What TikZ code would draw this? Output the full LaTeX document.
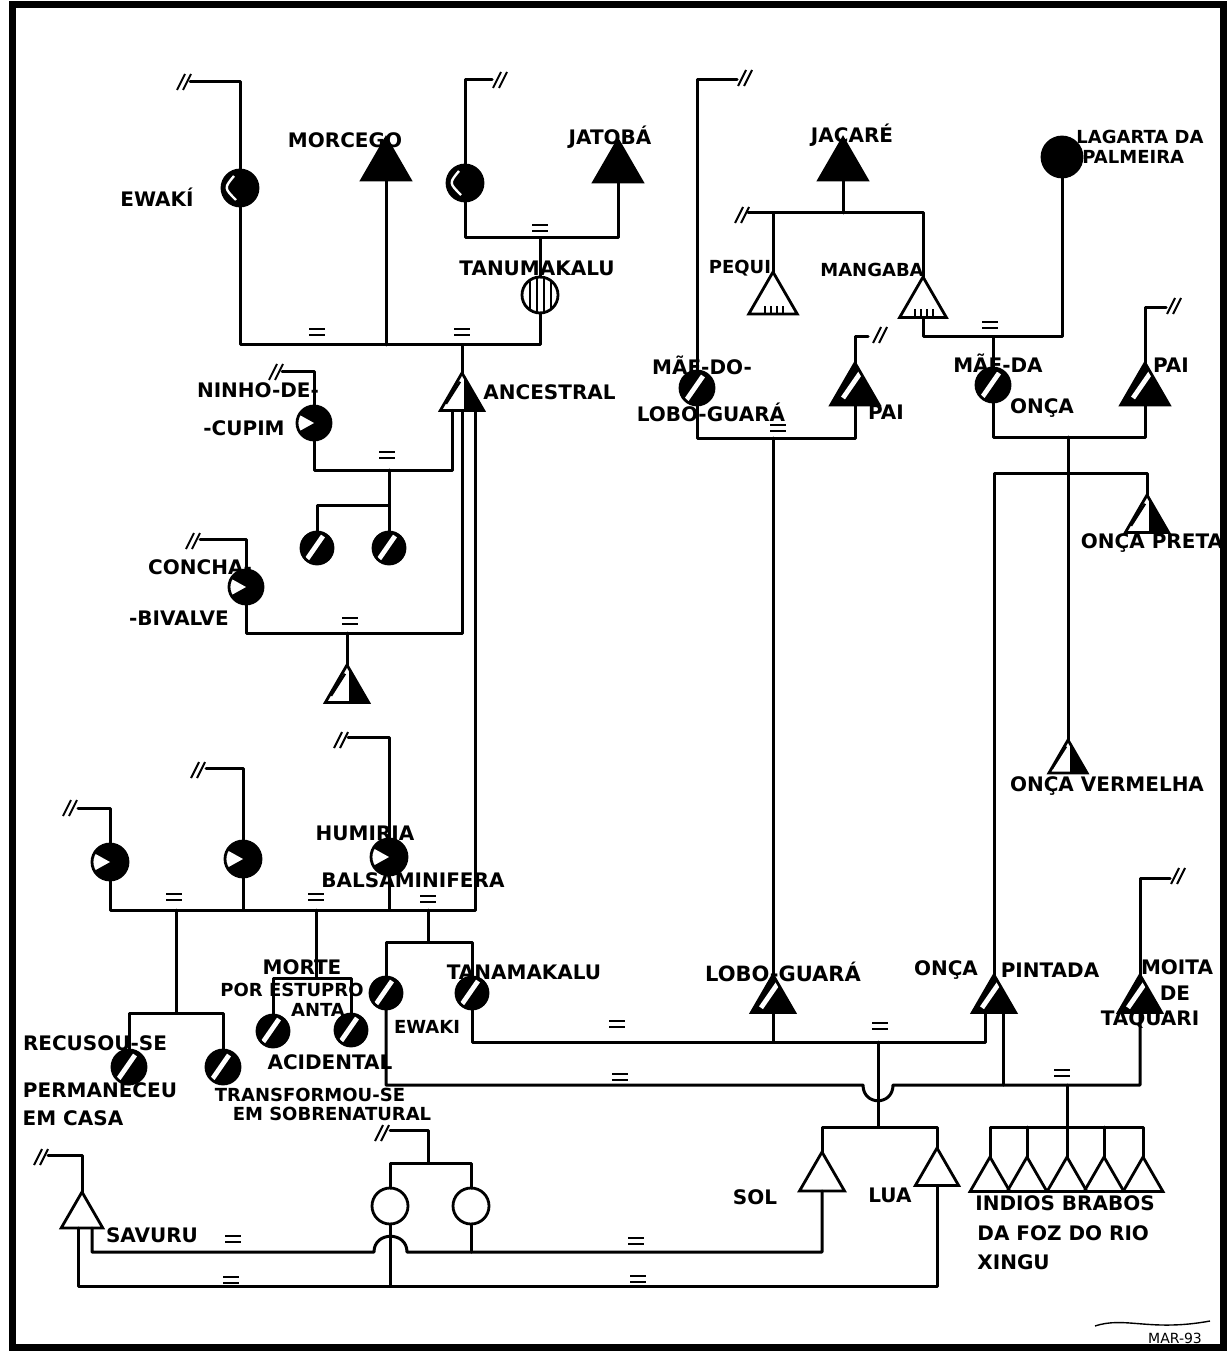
\documentclass[tikz,border=0pt]{standalone}
\usepackage{fontspec}
\setmainfont{DejaVu Sans}
\usetikzlibrary{shapes.geometric}
\newcommand\apb[1]{\coordinate (#1A) at (#1.corner 1); \coordinate (#1B) at (#1.side 2);}
\begin{document}
\begin{tikzpicture}[x=0.5pt,y=-0.5pt,
  ln/.style={line width=1.5pt, line cap=round, line join=round},
  sym/.style={draw=black, line width=1.4pt, inner sep=0pt, outer sep=0pt},
  fem/.style={sym, circle, minimum size=#1pt}, fem/.default=18,
  male/.style={sym, regular polygon, regular polygon sides=3, minimum size=#1pt}, male/.default=28,
  fblk/.style={fill=black},
  fswirl/.style={fill=black, path picture={\draw[white,line width=1.2pt] ([shift={(-3pt,6pt)}]path picture bounding box.center) .. controls ([shift={(-8pt,0pt)}]path picture bounding box.center) .. ([shift={(-2pt,-6pt)}]path picture bounding box.center);}},
  fwedge/.style={fill=black, path picture={\fill[white] (path picture bounding box.center) -- ++(-9pt,5pt) -- ++(0pt,-10pt) -- cycle;}},
  fslash/.style={fill=black, path picture={\draw[white,line width=2.4pt] ([shift={(-6pt,-7pt)}]path picture bounding box.center) -- ([shift={(3pt,6pt)}]path picture bounding box.center);}},
  fhalf/.style={path picture={\fill[black] ([xshift=1pt]path picture bounding box.north) rectangle (path picture bounding box.south east); \draw[line width=1.2pt] ([shift={(-8pt,-6pt)}]path picture bounding box.center) -- ([shift={(-1pt,5pt)}]path picture bounding box.center);}},
  fstripe/.style={path picture={\foreach \dx in {-5,-1.5,2,5.5}{\draw[line width=0.9pt] ([xshift=\dx pt]path picture bounding box.north) -- ([xshift=\dx pt]path picture bounding box.south);}}},
  ftick/.style={path picture={\foreach \dx in {-4,-1,2,5}{\draw[line width=0.6pt] ([xshift=\dx pt]path picture bounding box.south) -- ++(0pt,4pt);}}},
  lbl/.style={font=\bfseries\fontsize{10}{11}\selectfont, inner sep=0pt},
  brk/.pic={\draw[line width=1pt] (-7,8) -- (1,-8) (-1,8) -- (7,-8);},
  eqm/.pic={\draw[line width=1.1pt] (-8,-3) -- (8,-3) (-8,3) -- (8,3);}
]
\path[use as bounding box] (0,0) rectangle (1231,1352);
\draw[line width=3.5pt] (12,5) rectangle (1223,1347);

% ---------- symbols
\node[fem, fswirl] (ew1) at (240,188) {};
\node[male, fblk] (mor) at (386,166) {};
\node[fem, fswirl] (ew2) at (465,183) {};
\node[male, fblk] (jat) at (618,168) {};
\node[fem, fstripe] (tan) at (540,295) {};
\node[male=25, fhalf] (anc) at (462,398) {};
\node[fem=17, fwedge] (nin) at (314,423) {};
\node[fem=16, fslash] (c1) at (317,548) {};
\node[fem=16, fslash] (c2) at (389,548) {};
\node[fem=17, fwedge] (con) at (246,587) {};
\node[male=25, fhalf] (cch) at (347,690) {};
\node[fem, fwedge] (h1) at (110,862) {};
\node[fem, fwedge] (h2) at (243,859) {};
\node[fem, fwedge] (hum) at (389,857) {};
\node[fem=17, fslash] (rec) at (129,1067) {};
\node[fem=17, fslash] (tra) at (223,1067) {};
\node[fem=16, fslash] (mo1) at (273,1031) {};
\node[fem=16, fslash] (mo2) at (351,1030) {};
\node[fem=16, fslash] (ewb) at (386,993) {};
\node[fem=16, fslash] (tnb) at (472,993) {};
\node[fem] (sc1) at (390,1206) {};
\node[fem] (sc2) at (471,1206) {};
\node[male=24] (sav) at (82,1216) {};
\node[male=26] (sol) at (822,1178) {};
\node[male=25] (lua) at (937,1173) {};
\node[male=23] (ind1) at (990,1180) {};
\node[male=23] (ind2) at (1027,1180) {};
\node[male=23] (ind3) at (1067,1180) {};
\node[male=23] (ind4) at (1104,1180) {};
\node[male=23] (ind5) at (1143,1180) {};
\node[male, fblk] (jac) at (843,166) {};
\node[fem=20, fblk] (lag) at (1062,157) {};
\node[male, ftick] (peq) at (773,300) {};
\node[male=27, ftick] (man) at (923,304) {};
\node[fem=17, fslash] (ml) at (697,388) {};
\node[male, fslash] (pai1) at (855,391) {};
\node[fem=17, fslash] (mo) at (993,385) {};
\node[male, fslash] (pai2) at (1145,391) {};
\node[male=25, fhalf] (opr) at (1147,520) {};
\node[male=22, fhalf] (ove) at (1068,762) {};
\node[male=25, fslash] (lob) at (773,1000) {};
\node[male=25, fslash] (opi) at (994,1000) {};
\node[male=25, fslash] (moi) at (1140,1000) {};

\apb{mor}\apb{jat}\apb{anc}\apb{cch}\apb{sav}\apb{sol}\apb{lua}
\apb{ind1}\apb{ind2}\apb{ind3}\apb{ind4}\apb{ind5}
\apb{jac}\apb{peq}\apb{man}\apb{pai1}\apb{pai2}\apb{opr}\apb{ove}\apb{lob}\apb{opi}\apb{moi}

% ---------- top-left
\coordinate (ew1T) at (190,82);
\draw[ln] (ew1.north) |- (ew1T);
\pic at (184,82) {brk};
\draw[ln] (ew1.south) |- (tan.south |- 0,345) -- (tan.south);
\draw[ln] (morB) -- (morB |- 0,345);
\draw[ln] (ancA) -- (ancA |- 0,345);
\pic at (317,332) {eqm};
\pic at (462,332) {eqm};
\coordinate (ew2T) at (492,80);
\draw[ln] (ew2.north) |- (ew2T);
\pic at (500,80) {brk};
\draw[ln] (ew2.south) |- (jatB |- 0,238) -- (jatB);
\draw[ln] (tan.north) -- (tan.north |- 0,238);
\pic at (540,228) {eqm};

% ninho-de-cupim
\coordinate (ninT) at (282,372);
\draw[ln] (nin.north) |- (ninT);
\pic at (276,372) {brk};
\coordinate (ancL) at ([xshift=-5pt]ancB);
\coordinate (ancR) at ([xshift=6.5pt]ancB);
\draw[ln] (nin.south) |- (ancL |- 0,470) -- (ancL);
\pic at (387,455) {eqm};
\draw[ln] (c2.north |- 0,470) -- (c2.north);
\draw[ln] (c1.north) |- (c2.north |- 0,505);

% concha-bivalve
\coordinate (conT) at (200,539);
\draw[ln] (con.north) |- (conT);
\pic at (193,541) {brk};
\draw[ln] (con.south) |- (ancB |- 0,633) -- (ancB);
\pic at (350,621) {eqm};
\draw[ln] (cchA) -- (cchA |- 0,633);

% humiria
\coordinate (h1T) at (78,808);
\draw[ln] (h1.north) |- (h1T);
\pic at (70,808) {brk};
\coordinate (h2T) at (206,768);
\draw[ln] (h2.north) |- (h2T);
\pic at (198,770) {brk};
\coordinate (humT) at (348,737);
\draw[ln] (hum.north) |- (humT);
\pic at (341,740) {brk};
\draw[ln] (h1.south) |- (ancR |- 0,910) -- (ancR);
\draw[ln] (h2.south) -- (h2.south |- 0,910);
\draw[ln] (hum.south) -- (hum.south |- 0,910);
\pic at (174,897) {eqm};
\pic at (316,897) {eqm};
\pic at (428,899) {eqm};
\coordinate (hJa) at (176,910);
\coordinate (hJb) at (316,910);
\coordinate (hJc) at (428,910);
\draw[ln] (hJa) -- (hJa |- 0,1013);
\draw[ln] (rec.north) |- (tra.north |- 0,1013) -- (tra.north);
\draw[ln] (hJb) -- (hJb |- 0,978);
\draw[ln] (mo1.north) |- (mo2.north |- 0,978) -- (mo2.north);
\draw[ln] (hJc) -- (hJc |- 0,942);
\draw[ln] (ewb.north) |- (tnb.north |- 0,942) -- (tnb.north);

% ---------- bottom marriage lines
\coordinate (opiL) at ([xshift=-4.5pt]opiB);
\coordinate (opiR) at ([xshift=4.5pt]opiB);
\draw[ln] (tnb.south) |- (opiL |- 0,1042) -- (opiL);
\draw[ln] (lobB) -- (lobB |- 0,1042);
\pic at (617,1024) {eqm};
\pic at (880,1026) {eqm};
\coordinate (hopA) at (863,1085);
\coordinate (hopB) at (893,1085);
\draw[ln] (ewb.south) |- (hopA) .. controls (863,1106) and (893,1106) .. (hopB) -- (moiB |- 0,1085) -- (moiB);
\draw[ln] (opiR) -- (opiR |- 0,1085);
\pic at (620,1077) {eqm};
\pic at (1062,1073) {eqm};
\coordinate (slJ) at (878,1042);
\draw[ln] (slJ) -- (slJ |- 0,1127);
\draw[ln] (solA) |- (luaA |- 0,1127) -- (luaA);
\coordinate (inJ) at (1067,1085);
\draw[ln] (inJ) -- (inJ |- 0,1127);
\draw[ln] (ind1A) |- (ind5A |- 0,1127) -- (ind5A);
\draw[ln] (ind2A) -- (ind2A |- 0,1127);
\draw[ln] (ind3A) -- (ind3A |- 0,1127);
\draw[ln] (ind4A) -- (ind4A |- 0,1127);

% savuru
\coordinate (savL) at ([xshift=-2pt]savB);
\coordinate (savR) at ([xshift=5pt]savB);
\coordinate (hp1) at (407,1252);
\coordinate (hp2) at (374,1252);
\draw[ln] (solB) -- (solB |- 0,1252) -- (hp1) .. controls (407,1231) and (374,1231) .. (hp2) -- (savR |- 0,1252) -- (savR);
\draw[ln] (sc2.south) -- (sc2.south |- 0,1252);
\draw[ln] (luaB) -- (luaB |- 0,1286) -- (savL |- 0,1286) -- (savL);
\draw[ln] (sc1.south) -- (sc1.south |- 0,1286);
\pic at (233,1239) {eqm};
\pic at (636,1241) {eqm};
\pic at (231,1280) {eqm};
\pic at (638,1279) {eqm};
\coordinate (savT) at (48,1155);
\draw[ln] (savA) |- (savT);
\pic at (41,1157) {brk};
\coordinate (scJ) at (428,1163);
\coordinate (scT) at (390,1130);
\draw[ln] (sc1.north) |- (sc2.north |- 0,1163) -- (sc2.north);
\draw[ln] (scJ) |- (scT);
\pic at (382,1133) {brk};

% ---------- right top
\coordinate (mlT) at (737,80);
\draw[ln] (ml.north) |- (mlT);
\pic at (745,78) {brk};
\draw[ln] (ml.south) |- (pai1B |- 0,438) -- (pai1B);
\pic at (778,428) {eqm};
\draw[ln] (lobA) -- (lobA |- 0,438);
\coordinate (p1T) at (868,337);
\draw[ln] (pai1A) |- (p1T);
\pic at (880,335) {brk};
\coordinate (jT) at (748,213);
\draw[ln] (jT) -- (manA |- 0,213) -- (manA);
\pic at (742,215) {brk};
\draw[ln] (jacB) -- (jacB |- 0,213);
\draw[ln] (peqA) -- (peqA |- 0,213);
\draw[ln] (manB) |- (lag.south |- 0,337) -- (lag.south);
\pic at (990,325) {eqm};
\draw[ln] (mo.north) -- (mo.north |- 0,337);
\draw[ln] (mo.south) |- (pai2B |- 0,437) -- (pai2B);
\coordinate (p2T) at (1166,308);
\draw[ln] (pai2A) |- (p2T);
\pic at (1174,306) {brk};
\coordinate (oJ) at (1068,437);
\draw[ln] (oJ) -- (oJ |- 0,473);
\draw[ln] (opiA) |- (oprA |- 0,473) -- (oprA);
\draw[ln] (oveA) -- (oveA |- 0,473);
\coordinate (moT) at (1170,878);
\draw[ln] (moiA) |- (moT);
\pic at (1178,876) {brk};

% ---------- labels
\node[lbl] (tEw1) at (157,197) {EWAKÍ};
\node[lbl] (tMor) at (345,140) {MORCEGO};
\node[lbl] (tJat) at (610,137) {JATOBÁ};
\node[lbl] (tTan) at (537,268) {TANUMAKALU};
\node[lbl, anchor=west] (tAnc) at (483,392) {ANCESTRAL};
\node[lbl] (tNin1) at (258,390) {NINHO-DE-};
\node[lbl] (tNin2) at (244,428) {-CUPIM};
\node[lbl] (tCon1) at (200,567) {CONCHA-};
\node[lbl] (tCon2) at (179,618) {-BIVALVE};
\node[lbl] (tHum1) at (365,833) {HUMIRIA};
\node[lbl] (tHum2) at (413,880) {BALSAMINIFERA};
\node[lbl] (tMt1) at (302,967) {MORTE};
\node[lbl, font=\bfseries\fontsize{9}{10}\selectfont] (tMt2) at (292,990) {POR ESTUPRO};
\node[lbl, font=\bfseries\fontsize{9}{10}\selectfont] (tMt3) at (318,1010) {ANTA};
\node[lbl] (tMt4) at (330,1062) {ACIDENTAL};
\node[lbl, font=\bfseries\fontsize{9}{10}\selectfont] (tEwb) at (427,1027) {EWAKI};
\node[lbl] (tTnb) at (524,972) {TANAMAKALU};
\node[lbl] (tRec1) at (95,1043) {RECUSOU-SE};
\node[lbl] (tRec2) at (100,1090) {PERMANECEU};
\node[lbl] (tRec3) at (73,1118) {EM CASA};
\node[lbl, font=\bfseries\fontsize{9}{10}\selectfont] (tTra1) at (310,1095) {TRANSFORMOU-SE};
\node[lbl, font=\bfseries\fontsize{9}{10}\selectfont] (tTra2) at (332,1114) {EM SOBRENATURAL};
\node[lbl] (tSav) at (152,1235) {SAVURU};
\node[lbl] (tSol) at (755,1197) {SOL};
\node[lbl] (tLua) at (890,1195) {LUA};
\node[lbl, anchor=west] (tInd1) at (975,1203) {INDIOS BRABOS};
\node[lbl, anchor=west] (tInd2) at (977,1233) {DA FOZ DO RIO};
\node[lbl, anchor=west] (tInd3) at (977,1262) {XINGU};
\node[lbl, font=\bfseries\fontsize{10.5}{11}\selectfont] (tLob) at (783,972) {LOBO-GUARÁ};
\node[lbl] (tOpi1) at (946,970) {ONÇA};
\node[lbl] (tOpi2) at (1050,970) {PINTADA};
\node[lbl] (tMoi1) at (1177,967) {MOITA};
\node[lbl] (tMoi2) at (1175,993) {DE};
\node[lbl] (tMoi3) at (1150,1020) {TAQUARI};
\node[lbl] (tOve) at (1107,786) {ONÇA VERMELHA};
\node[lbl] (tOpr) at (1152,543) {ONÇA PRETA};
\node[lbl] (tMl1) at (702,365) {MÃE-DO-};
\node[lbl] (tMl2) at (711,412) {LOBO-GUARÁ};
\node[lbl] (tPai1) at (886,412) {PAI};
\node[lbl] (tMo1) at (998,363) {MÃE-DA};
\node[lbl] (tMo2) at (1042,408) {ONÇA};
\node[lbl] (tPai2) at (1171,365) {PAI};
\node[lbl] (tJac) at (852,135) {JACARÉ};
\node[lbl, anchor=west, font=\bfseries\fontsize{9}{10}\selectfont] (tLag1) at (1076,137) {LAGARTA DA};
\node[lbl, anchor=west, font=\bfseries\fontsize{9}{10}\selectfont] (tLag2) at (1082,157) {PALMEIRA};
\node[lbl, font=\bfseries\fontsize{9}{10}\selectfont] (tPeq) at (740,268) {PEQUI};
\node[lbl, font=\bfseries\fontsize{9}{10}\selectfont] (tMan) at (872,270) {MANGABA};
\node[lbl, font=\fontsize{7}{8}\selectfont] (tSig) at (1175,1338) {MAR-93};
\draw[line width=0.7pt] (1095,1326) .. controls (1125,1316) and (1150,1332) .. (1210,1321);
\end{tikzpicture}
\end{document}
